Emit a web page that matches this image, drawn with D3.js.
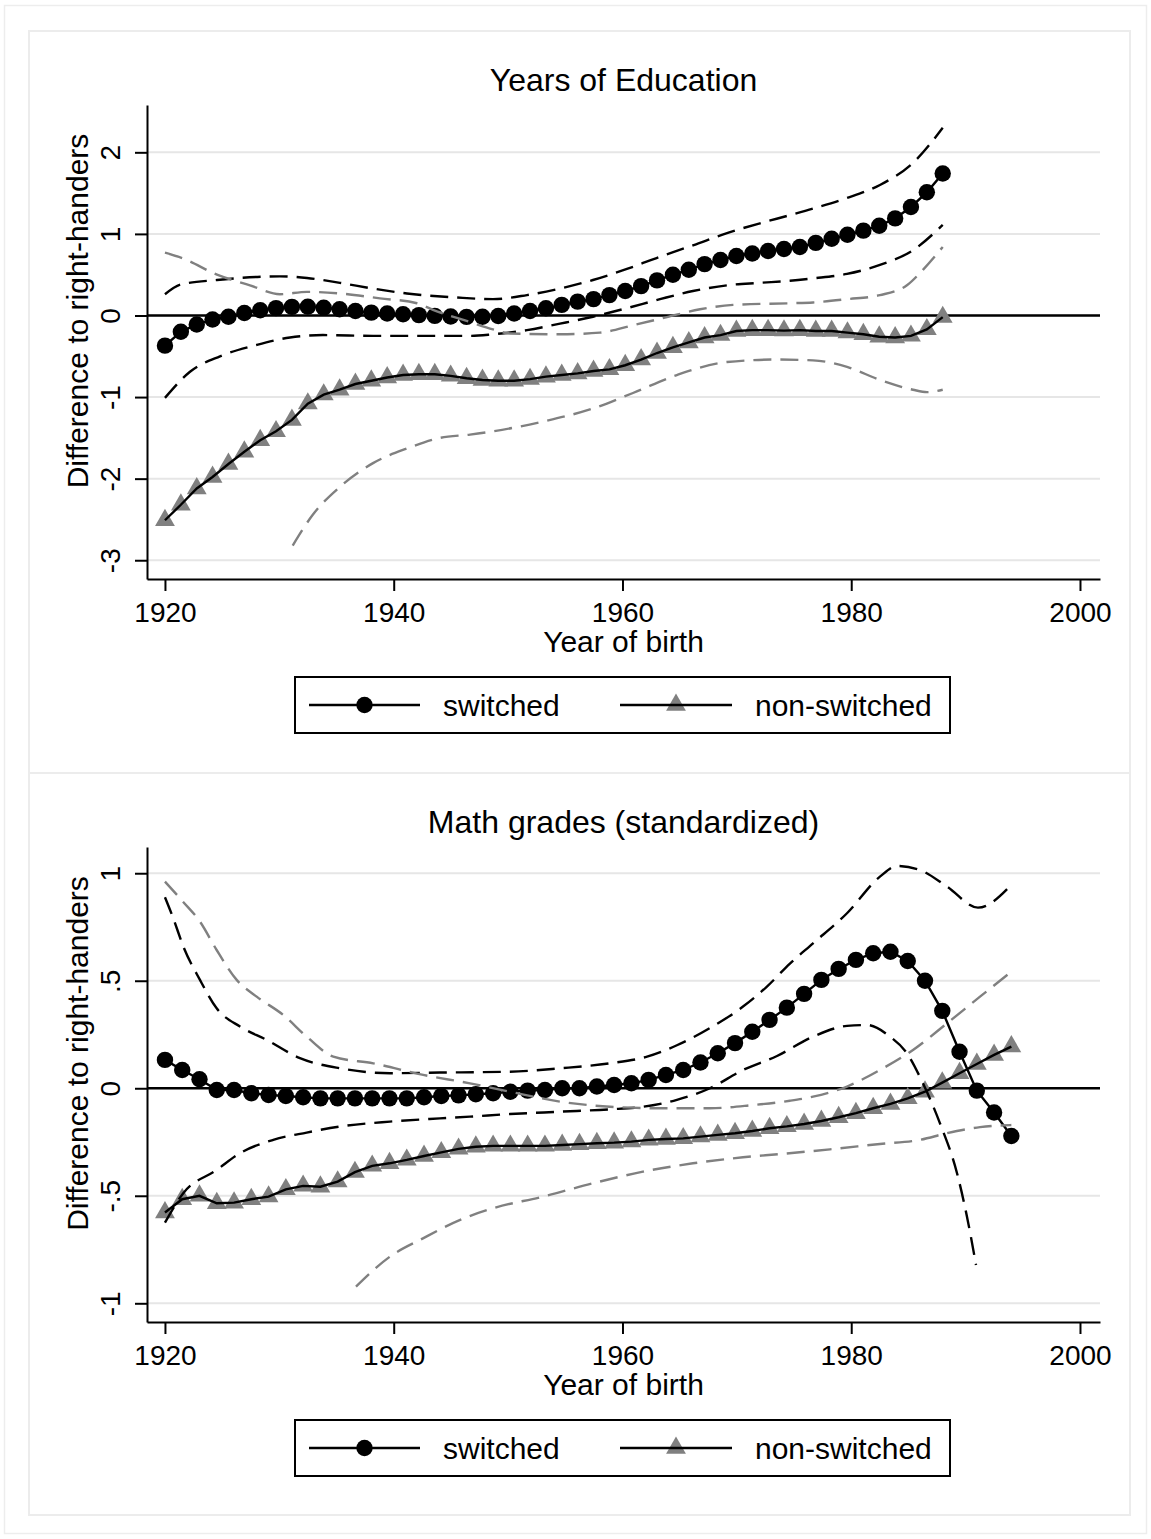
<!DOCTYPE html>
<html><head><meta charset="utf-8">
<script src="https://cdn.jsdelivr.net/npm/d3@7"></script>
<style>html,body{margin:0;padding:0;background:#fff} svg{display:block}</style>
</head><body>
<svg id="chart" width="1151" height="1539"></svg>
<script>
// ---------------- DATA ----------------
const xTickValues = [1920, 1940, 1960, 1980, 2000];
const xDomain = [1918.43, 2001.75];
const legendLabels = ["switched", "non-switched"];

// Panel 1: Years of Education
const eduTitle = "Years of Education";
const eduYTicks = [-3, -2, -1, 0, 1, 2];
const eduYDomain = [-3.23, 2.58];
const yearsEdu = [1920.00,1921.39,1922.78,1924.16,1925.55,1926.94,1928.33,1929.71,1931.10,1932.49,
  1933.88,1935.27,1936.65,1938.04,1939.43,1940.82,1942.20,1943.59,1944.98,1946.37,
  1947.76,1949.14,1950.53,1951.92,1953.31,1954.69,1956.08,1957.47,1958.86,1960.24,
  1961.63,1963.02,1964.41,1965.80,1967.18,1968.57,1969.96,1971.35,1972.73,1974.12,
  1975.51,1976.90,1978.29,1979.67,1981.06,1982.45,1983.84,1985.22,1986.61,1988.00];
const eduSwitched = [-0.37,-0.20,-0.11,-0.05,-0.015,0.03,0.065,0.09,0.105,0.108,
  0.095,0.076,0.055,0.035,0.025,0.015,0.005,-0.005,-0.012,-0.017,
  -0.015,-0.006,0.025,0.055,0.088,0.13,0.17,0.20,0.25,0.30,
  0.36,0.43,0.50,0.56,0.63,0.68,0.73,0.76,0.79,0.815,
  0.84,0.89,0.94,0.99,1.04,1.10,1.19,1.33,1.51,1.74];
const eduNonSwitched = [-2.51,-2.32,-2.12,-1.98,-1.82,-1.67,-1.53,-1.42,-1.28,-1.08,
  -0.97,-0.91,-0.84,-0.80,-0.76,-0.73,-0.72,-0.72,-0.74,-0.77,
  -0.79,-0.80,-0.80,-0.78,-0.75,-0.73,-0.71,-0.68,-0.66,-0.61,
  -0.54,-0.46,-0.39,-0.33,-0.27,-0.24,-0.19,-0.18,-0.18,-0.185,
  -0.18,-0.19,-0.19,-0.21,-0.23,-0.26,-0.27,-0.25,-0.17,-0.02];
const eduSwUpperYears = [1920,1921.4,1924.55,1926.56,1930.05,1932.42,1935.3,1938.19,1941.16,1945.53,1948.68,1951.65,1954.54,1957.42,1960.39,1963.28,1966.16,1969.14,1972.02,1974.64,1976.66,1979.63,1982.51,1985.4,1988];
const eduSwUpper = [0.26,0.38,0.435,0.46,0.48,0.46,0.40,0.33,0.27,0.22,0.20,0.25,0.33,0.435,0.57,0.72,0.86,1.01,1.13,1.23,1.31,1.44,1.60,1.87,2.30];
const eduSwLowerYears = [1920,1922.19,1924.81,1928.04,1930.93,1933.81,1938.19,1942.56,1946.67,1948.68,1951.65,1954.54,1957.42,1960.39,1963.28,1966.16,1969.14,1972.02,1974.64,1976.66,1979.63,1982.51,1985.4,1988];
const eduSwLower = [-1.01,-0.69,-0.50,-0.36,-0.27,-0.24,-0.25,-0.25,-0.25,-0.23,-0.18,-0.10,-0.015,0.09,0.20,0.30,0.37,0.40,0.425,0.455,0.51,0.62,0.80,1.11];
const eduNsUpperYears = [1920,1921.57,1924.55,1927.43,1930.05,1932.42,1935.3,1938.8,1942.03,1943.43,1946.67,1948.68,1950.16,1954.54,1958.03,1960.92,1963.89,1966.78,1969.66,1974.64,1976.66,1979.63,1982.51,1984.87,1986.27,1988];
const eduNsUpper = [0.77,0.70,0.50,0.37,0.26,0.29,0.27,0.21,0.15,0.07,-0.08,-0.17,-0.22,-0.23,-0.21,-0.12,-0.02,0.076,0.13,0.15,0.16,0.20,0.25,0.37,0.56,0.84];
const eduNsLowerYears = [1931.17,1932.94,1935.3,1938.19,1941.16,1944.04,1946.67,1948.68,1953.05,1957.42,1960.92,1964.76,1969.14,1973.51,1976.66,1979.63,1982.51,1985.4,1986.62,1988];
const eduNsLower = [-2.82,-2.44,-2.10,-1.81,-1.63,-1.50,-1.46,-1.42,-1.30,-1.14,-0.95,-0.73,-0.57,-0.54,-0.55,-0.63,-0.79,-0.91,-0.94,-0.91];

// Panel 2: Math grades (standardized)
const mathTitle = "Math grades (standardized)";
const mathYTicks = [-1, -0.5, 0, 0.5, 1];
const mathYDomain = [-1.087, 1.122];
const yearsMath = [1920.00,1921.51,1923.02,1924.53,1926.04,1927.55,1929.06,1930.57,1932.08,1933.59,
  1935.10,1936.61,1938.12,1939.63,1941.14,1942.65,1944.16,1945.67,1947.18,1948.69,
  1950.20,1951.71,1953.22,1954.73,1956.24,1957.76,1959.27,1960.78,1962.29,1963.80,
  1965.31,1966.82,1968.33,1969.84,1971.35,1972.86,1974.37,1975.88,1977.39,1978.90,
  1980.41,1981.92,1983.43,1984.94,1986.45,1987.96,1989.47,1990.98,1992.49,1994.00];
const mathSwitched = [0.132,0.085,0.042,-0.008,-0.008,-0.023,-0.031,-0.036,-0.042,-0.047,
  -0.047,-0.047,-0.047,-0.047,-0.047,-0.042,-0.036,-0.033,-0.028,-0.023,
  -0.016,-0.011,-0.008,0.0,0.0,0.008,0.015,0.023,0.039,0.062,
  0.085,0.12,0.163,0.21,0.263,0.318,0.375,0.439,0.504,0.555,
  0.597,0.628,0.635,0.592,0.50,0.36,0.17,-0.011,-0.113,-0.222];
const mathNonSwitched = [-0.578,-0.516,-0.50,-0.535,-0.532,-0.516,-0.504,-0.47,-0.454,-0.458,
  -0.434,-0.39,-0.361,-0.349,-0.333,-0.315,-0.298,-0.282,-0.272,-0.268,
  -0.268,-0.268,-0.268,-0.264,-0.26,-0.256,-0.253,-0.248,-0.24,-0.236,
  -0.233,-0.225,-0.217,-0.209,-0.199,-0.186,-0.177,-0.166,-0.152,-0.135,
  -0.116,-0.093,-0.073,-0.047,-0.016,0.026,0.07,0.113,0.155,0.194];
const mathSwUpperYears = [1920,1920.73,1921.6,1923.06,1924.52,1926.56,1928.89,1931.8,1935.3,1939.67,1944.04,1950.16,1954.54,1958.91,1962.15,1964.76,1967.65,1970.54,1972.63,1974.64,1976.66,1979.63,1982.51,1984.0,1986.01,1988.37,1991.08,1994];
const mathSwUpper = [0.888,0.79,0.66,0.504,0.372,0.287,0.225,0.14,0.093,0.07,0.073,0.077,0.093,0.116,0.147,0.20,0.28,0.38,0.473,0.58,0.674,0.814,0.984,1.034,1.015,0.938,0.84,0.946];
const mathSwLowerYears = [1920,1921.6,1924.52,1926.56,1929.47,1932.39,1935.3,1939.67,1944.04,1946.67,1950.16,1954.54,1958.91,1961.79,1964.76,1967.65,1970.54,1973.51,1976.66,1979.63,1981.38,1983.39,1984.87,1986.27,1987.76,1989.25,1990.12,1990.91];
const mathSwLower = [-0.625,-0.488,-0.38,-0.302,-0.24,-0.206,-0.178,-0.155,-0.14,-0.132,-0.12,-0.109,-0.098,-0.086,-0.054,0.0,0.085,0.15,0.24,0.29,0.294,0.24,0.163,0.023,-0.163,-0.395,-0.597,-0.822];
const mathNsUpperYears = [1920,1921.57,1923.06,1924.52,1926.27,1928.02,1930.34,1932.39,1934.72,1938.21,1942.58,1946.67,1950.16,1954.54,1958.91,1963.28,1967.65,1971.41,1974.64,1976.66,1979.63,1982.51,1985.4,1988.37,1991.26,1994];
const mathNsUpper = [0.961,0.868,0.775,0.643,0.504,0.426,0.341,0.24,0.147,0.116,0.062,0.023,-0.016,-0.062,-0.086,-0.093,-0.093,-0.078,-0.058,-0.039,0.008,0.085,0.178,0.302,0.426,0.542];
const mathNsLowerYears = [1936.7,1939.67,1942.56,1945.94,1948.68,1953.05,1957.42,1961.79,1966.16,1970.54,1973.77,1978.14,1982.51,1986.01,1988.37,1991.26,1994];
const mathNsLower = [-0.923,-0.783,-0.698,-0.609,-0.558,-0.504,-0.442,-0.388,-0.349,-0.321,-0.306,-0.284,-0.259,-0.24,-0.209,-0.181,-0.171];

// ---------------- DRAWING ----------------
const W = 1151, H = 1539;
const FONT = "'Liberation Sans', Arial, Helvetica, sans-serif";
const GRAY = "#808080";
const svg = d3.select("#chart");
svg.append("rect").attr("width", W).attr("height", H).attr("fill", "#fff");
svg.append("rect").attr("x", 4.5).attr("y", 5.5).attr("width", 1142).attr("height", 1528)
  .attr("fill", "none").attr("stroke", "#ededed").attr("stroke-width", 1.5);

const fmtStata = d => String(d).replace(/^(-?)0\./, "$1.");

const panels = [
  { title: eduTitle, yTicks: eduYTicks, yDomain: eduYDomain, years: yearsEdu,
    sw: eduSwitched, ns: eduNonSwitched,
    ci: [
      {yrs: eduSwUpperYears, vals: eduSwUpper, color: "#000"},
      {yrs: eduSwLowerYears, vals: eduSwLower, color: "#000"},
      {yrs: eduNsUpperYears, vals: eduNsUpper, color: GRAY},
      {yrs: eduNsLowerYears, vals: eduNsLower, color: GRAY}
    ],
    box: [29, 31], plot: {left: 147, right: 1100, top: 105, bottom: 579} },
  { title: mathTitle, yTicks: mathYTicks, yDomain: mathYDomain, years: yearsMath,
    sw: mathSwitched, ns: mathNonSwitched,
    ci: [
      {yrs: mathSwUpperYears, vals: mathSwUpper, color: "#000"},
      {yrs: mathSwLowerYears, vals: mathSwLower, color: "#000"},
      {yrs: mathNsUpperYears, vals: mathNsUpper, color: GRAY},
      {yrs: mathNsLowerYears, vals: mathNsLower, color: GRAY}
    ],
    box: [29, 773], plot: {left: 147, right: 1100, top: 847, bottom: 1322} }
];

const triPath = d3.symbol().type(d3.symbolTriangle).size(170)();
const R = 8.2;

function drawPanel(p) {
  const g = svg.append("g");
  g.append("rect").attr("x", p.box[0]).attr("y", p.box[1]).attr("width", 1101).attr("height", 742)
    .attr("fill", "none").attr("stroke", "#ececec").attr("stroke-width", 2);

  const x = d3.scaleLinear().domain(xDomain).range([p.plot.left, p.plot.right]);
  const y = d3.scaleLinear().domain(p.yDomain).range([p.plot.bottom, p.plot.top]);

  // grid lines
  g.append("g").selectAll("line").data(p.yTicks).join("line")
    .attr("x1", p.plot.left).attr("x2", p.plot.right)
    .attr("y1", d => y(d)).attr("y2", d => y(d))
    .attr("stroke", "#e6e6e6").attr("stroke-width", 2);

  // zero line
  g.append("line").attr("x1", p.plot.left).attr("x2", p.plot.right)
    .attr("y1", y(0)).attr("y2", y(0)).attr("stroke", "#000").attr("stroke-width", 2.5);

  // y axis
  const ya = g.append("g").attr("transform", `translate(${p.plot.left},0)`)
    .call(d3.axisLeft(y).tickValues(p.yTicks).tickSize(12).tickSizeOuter(0).tickFormat(fmtStata));
  ya.select(".domain").attr("stroke-width", 2);
  ya.selectAll(".tick line").attr("stroke-width", 2);
  ya.selectAll(".tick text")
    .attr("transform", "translate(-27,0) rotate(-90)")
    .attr("x", 0).attr("y", 0).attr("dy", 0)
    .attr("text-anchor", "middle")
    .style("font-family", FONT).style("font-size", "28px").attr("fill", "#000");

  // x axis
  const xa = g.append("g").attr("transform", `translate(0,${p.plot.bottom})`)
    .call(d3.axisBottom(x).tickValues(xTickValues).tickSize(12).tickSizeOuter(0).tickFormat(d3.format("d")));
  xa.select(".domain").attr("stroke-width", 2);
  xa.selectAll(".tick line").attr("stroke-width", 2);
  xa.selectAll(".tick text").attr("y", 43).attr("dy", 0)
    .style("font-family", FONT).style("font-size", "28px").attr("fill", "#000");

  // titles
  const cx = (p.plot.left + p.plot.right) / 2;
  g.append("text").attr("x", cx).attr("y", p.plot.top - 14).attr("text-anchor", "middle")
    .style("font-family", FONT).style("font-size", "32px").text(p.title);
  g.append("text").attr("x", cx).attr("y", p.plot.bottom + 73).attr("text-anchor", "middle")
    .style("font-family", FONT).style("font-size", "30px").text("Year of birth");
  const yc = (p.plot.top + p.plot.bottom) / 2 - 31;
  g.append("text").attr("transform", `translate(88,${yc}) rotate(-90)`).attr("text-anchor", "middle")
    .style("font-family", FONT).style("font-size", "30px").text("Difference to right-handers");

  // series
  const line = d3.line().x(d => x(d[0])).y(d => y(d[1]));
  const swPts = p.years.map((yr, i) => [yr, p.sw[i]]);
  const nsPts = p.years.map((yr, i) => [yr, p.ns[i]]);

  g.append("path").attr("d", line(swPts)).attr("fill", "none").attr("stroke", "#000").attr("stroke-width", 2.4);
  g.append("g").selectAll("circle").data(swPts).join("circle")
    .attr("cx", d => x(d[0])).attr("cy", d => y(d[1])).attr("r", R).attr("fill", "#000");

  g.append("g").selectAll("path").data(nsPts).join("path")
    .attr("d", triPath).attr("transform", d => `translate(${x(d[0])},${y(d[1])})`).attr("fill", GRAY);
  g.append("path").attr("d", line(nsPts)).attr("fill", "none").attr("stroke", "#000").attr("stroke-width", 2.4);

  // confidence bands (dashed)
  const cline = d3.line().x(d => x(d[0])).y(d => y(d[1])).curve(d3.curveMonotoneX);
  p.ci.forEach(c => {
    const pts = c.yrs.map((yr, i) => [yr, c.vals[i]]);
    g.append("path").attr("d", cline(pts)).attr("fill", "none")
      .attr("stroke", c.color).attr("stroke-width", 2.4).attr("stroke-dasharray", "18,9");
  });

  // legend
  const ly = p.plot.bottom + 98;
  const lg = g.append("g");
  lg.append("rect").attr("x", 295).attr("y", ly).attr("width", 655).attr("height", 56)
    .attr("fill", "#fff").attr("stroke", "#000").attr("stroke-width", 2);
  const lc = ly + 28;
  lg.append("line").attr("x1", 309).attr("x2", 420).attr("y1", lc).attr("y2", lc).attr("stroke", "#000").attr("stroke-width", 2.4);
  lg.append("circle").attr("cx", 364.5).attr("cy", lc).attr("r", R).attr("fill", "#000");
  lg.append("text").attr("x", 443).attr("y", lc + 10.5).style("font-family", FONT).style("font-size", "30px").text(legendLabels[0]);
  lg.append("path").attr("d", triPath).attr("transform", `translate(676,${lc})`).attr("fill", GRAY);
  lg.append("line").attr("x1", 620).attr("x2", 732).attr("y1", lc).attr("y2", lc).attr("stroke", "#000").attr("stroke-width", 2.4);
  lg.append("text").attr("x", 755).attr("y", lc + 10.5).style("font-family", FONT).style("font-size", "30px").text(legendLabels[1]);
}

panels.forEach(drawPanel);
</script>
</body></html>
